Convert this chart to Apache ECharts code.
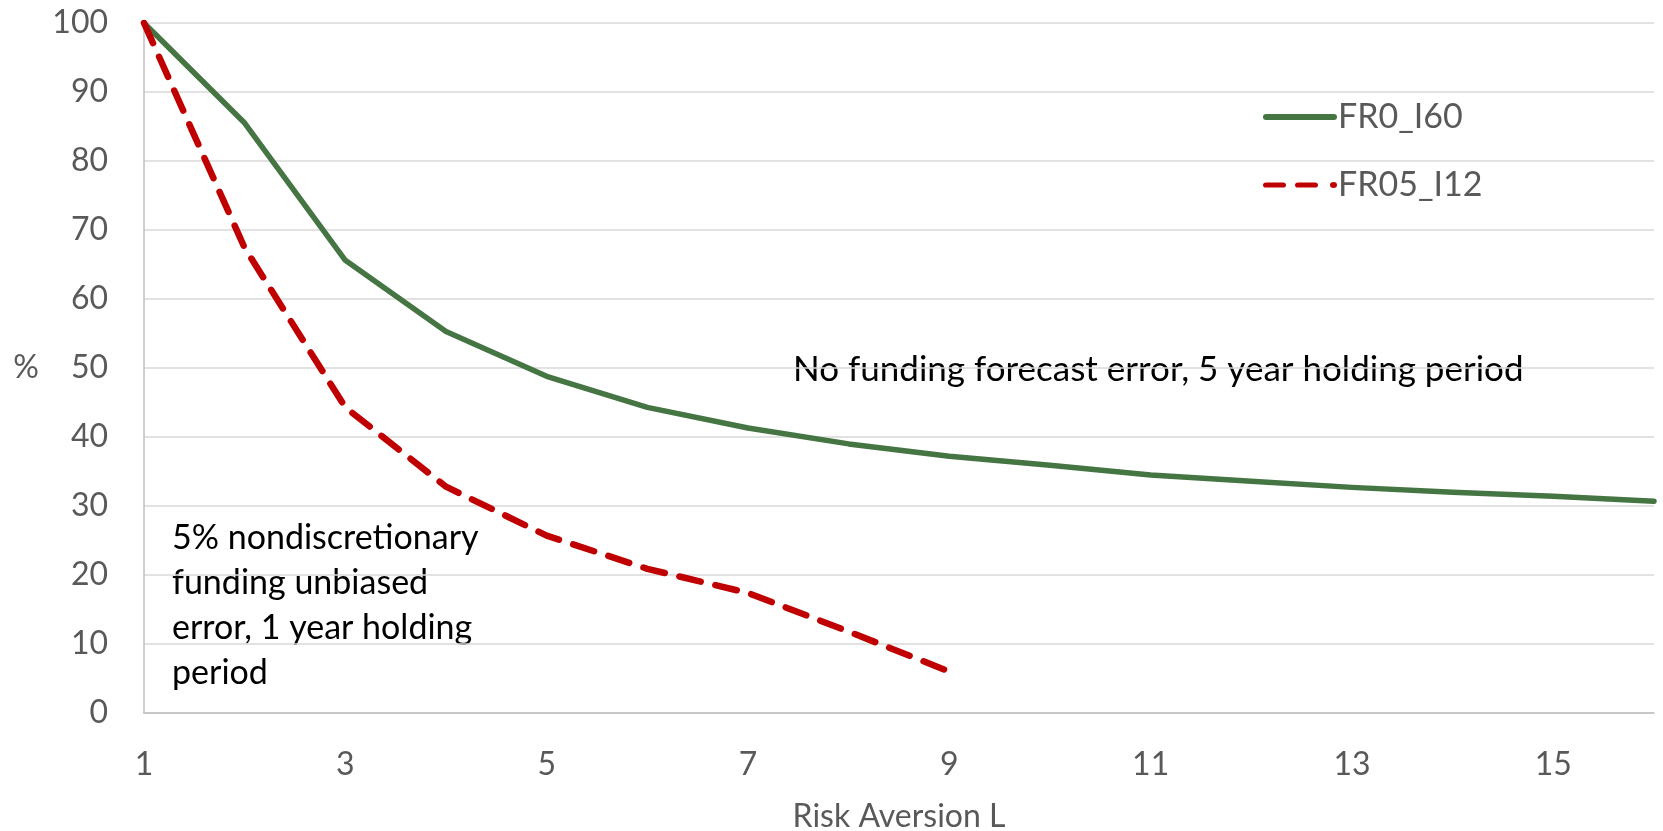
<!DOCTYPE html>
<html>
<head>
<meta charset="utf-8">
<script src="https://cdn.jsdelivr.net/npm/echarts@6/dist/echarts.min.js"></script>
<style>
  html, body { margin: 0; padding: 0; background: #ffffff; }
  #chart { width: 1663px; height: 831px; }
</style>
</head>
<body>
<div id="chart"></div>
<script>
// Risk aversion levels (x categories)
const riskAversion = ['1','2','3','4','5','6','7','8','9','10','11','12','13','14','15','16'];
// Share (%) for the no-forecast-error, 5 year holding period case
const fr0I60 = [100, 85.5, 65.6, 55.3, 48.8, 44.3, 41.3, 39.0, 37.2, 35.9, 34.5, 33.6, 32.7, 32.0, 31.4, 30.7];
// Share (%) for the 5% nondiscretionary funding error, 1 year holding period case
const fr05I12 = [100, 67.4, 44.3, 32.8, 25.7, 20.9, 17.4, 11.8, 6.0];
const seriesNames = ['FR0_I60', 'FR05_I12'];
const yTicks = { min: 0, max: 100, step: 10 };

const FONT = 'Lato, "Open Sans", sans-serif';
const GREY_TEXT = '#595959';
const GREEN = '#467544';
const RED = '#C00000';

// Legend keys: a solid rounded bar, and dash-dash-dot
const solidKey = 'path://M3,0 L71,0 A3,3 0 0 1 71,6 L3,6 A3,3 0 0 1 3,0 Z';
const dashedKey = 'path://M3,0 L20,0 A3,3 0 0 1 20,6 L3,6 A3,3 0 0 1 3,0 Z ' +
                  'M35,0 L52,0 A3,3 0 0 1 52,6 L35,6 A3,3 0 0 1 35,0 Z ' +
                  'M67,3 A3.5,3.5 0 1 1 74,3 A3.5,3.5 0 1 1 67,3 Z';

const chart = echarts.init(document.getElementById('chart'), null, { renderer: 'canvas' });

chart.setOption({
  animation: false,
  backgroundColor: '#ffffff',
  textStyle: { fontFamily: FONT },
  grid: { left: 144, right: 9, top: 23, bottom: 118, containLabel: false, outerBoundsMode: 'none' },
  legend: {
    orient: 'vertical',
    left: 1258,
    top: 94,
    itemWidth: 74,
    itemHeight: 6,
    itemGap: 32,
    symbolKeepAspect: false,
    data: [
      { name: seriesNames[0], icon: solidKey, itemStyle: { color: GREEN } },
      { name: seriesNames[1], icon: dashedKey, itemStyle: { color: RED } }
    ],
    textStyle: { fontFamily: FONT, fontSize: 34, color: GREY_TEXT, lineHeight: 36, padding: [0, 0, 0, -4] }
  },
  xAxis: {
    type: 'category',
    data: riskAversion,
    boundaryGap: false,
    name: 'Risk Aversion L',
    nameLocation: 'middle',
    nameGap: 88,
    nameTextStyle: { fontFamily: FONT, fontSize: 32, color: GREY_TEXT },
    axisLine: { lineStyle: { color: '#BFBFBF', width: 1.5 } },
    axisTick: { show: false },
    axisLabel: { interval: 1, margin: 36, fontFamily: FONT, fontSize: 32, color: GREY_TEXT },
    splitLine: { show: false }
  },
  yAxis: {
    type: 'value',
    min: yTicks.min,
    max: yTicks.max,
    interval: yTicks.step,
    name: '%',
    nameLocation: 'middle',
    nameRotate: 0,
    nameGap: 105,
    nameTextStyle: { fontFamily: FONT, fontSize: 32, color: GREY_TEXT },
    axisLine: { show: true, lineStyle: { color: '#BFBFBF', width: 1.5 } },
    axisTick: { show: false },
    axisLabel: { margin: 36, fontFamily: FONT, fontSize: 32, color: GREY_TEXT },
    splitLine: { lineStyle: { color: '#D9D9D9', width: 1.5 } }
  },
  series: [
    {
      name: seriesNames[0],
      type: 'line',
      data: fr0I60,
      symbol: 'none',
      smooth: false,
      lineStyle: { color: GREEN, width: 5.5, cap: 'round', join: 'round' },
      itemStyle: { color: GREEN },
      z: 2
    },
    {
      name: seriesNames[1],
      type: 'line',
      data: fr05I12,
      symbol: 'none',
      smooth: false,
      lineStyle: { color: RED, width: 6.5, type: [22, 15], cap: 'round', join: 'round' },
      itemStyle: { color: RED },
      z: 3
    }
  ],
  graphic: [
    {
      type: 'text',
      left: 793,
      top: 350,
      style: {
        text: 'No funding forecast error, 5 year holding period',
        font: '35px ' + FONT,
        lineHeight: 40,
        fill: '#000000'
      }
    },
    {
      type: 'text',
      left: 172,
      top: 516,
      style: {
        text: '5% nondiscretionary\nfunding unbiased\nerror, 1 year holding\nperiod',
        font: '34px ' + FONT,
        lineHeight: 45,
        fill: '#000000'
      }
    }
  ]
});
</script>
</body>
</html>
